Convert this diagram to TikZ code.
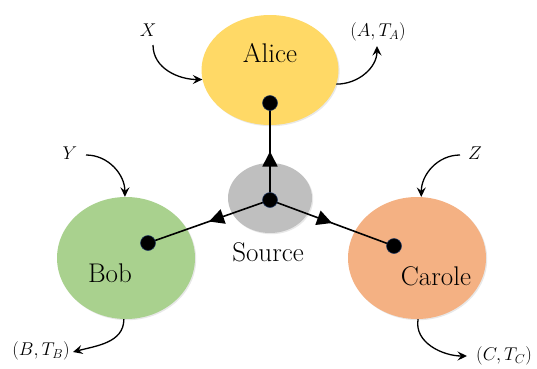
\RequirePackage{fix-cm}
\documentclass[tikz,border=0pt]{standalone}
\usetikzlibrary{shapes.geometric,arrows.meta,decorations.markings,shadows}
\definecolor{alicecol}{HTML}{FFD966}
\definecolor{bobcol}{HTML}{A9D18E}
\definecolor{carolecol}{HTML}{F4B183}
\definecolor{sourcecol}{HTML}{BFBFBF}
\definecolor{dotedge}{HTML}{1F3864}
\tikzset{
  party/.style={ellipse, inner sep=0pt, draw=none, drop shadow={opacity=0.18, shadow xshift=1.2pt, shadow yshift=-1.2pt}},
  dotnode/.style={circle, fill=black, draw=dotedge, line width=0.5pt, minimum size=15pt, inner sep=0pt},
  namelabel/.style={font=\fontsize{27}{31}\selectfont, inner sep=0pt},
  mathlabel/.style={font=\fontsize{18.5}{22}\selectfont, inner sep=0pt},
  link/.style={line width=1.6pt, decoration={markings, mark=at position 0.5 with {\arrow{Triangle[length=15pt,width=15pt]}}}, postaction={decorate}},
  inout/.style={line width=1.3pt, -{Stealth[length=9.5pt,width=9pt,inset=3.5pt]}}
}
\begin{document}
\begin{tikzpicture}[x=1pt,y=1pt]
\useasboundingbox (0,0) rectangle (537,368);
% ellipses
\node[party, fill=alicecol, minimum width=137pt, minimum height=110pt] (alice) at (270,298) {};
\node[party, fill=sourcecol, minimum width=84pt, minimum height=70pt] (source) at (270,170) {};
\node[party, fill=bobcol, minimum width=138pt, minimum height=122pt] (bob) at (126,110) {};
\node[party, fill=carolecol, minimum width=138pt, minimum height=122pt] (carole) at (417,110) {};
% names
\node[namelabel] (alicet) at (270,315) {Alice};
\node[namelabel] (sourcet) at (268,116) {Source};
\node[namelabel] (bobt) at (110,95) {Bob};
\node[namelabel] (carolet) at (436,92) {Carole};
% dot coordinates
\coordinate (ad) at (270,265);
\coordinate (sd) at (270,168);
\coordinate (bd) at (148,125);
\coordinate (cd) at (394,122);
% links
\draw[link] (sd) -- (ad);
\draw[link] (sd) -- (bd);
\draw[link] (sd) -- (cd);
% dots
\node[dotnode] (adot) at (ad) {};
\node[dotnode] (sdot) at (sd) {};
\node[dotnode] (bdot) at (bd) {};
\node[dotnode] (cdot) at (cd) {};
% inputs/outputs labels
\node[mathlabel] (x) at (148,338) {$X$};
\node[mathlabel] (ta) at (378,336) {$(A,T_A)$};
\node[mathlabel] (y) at (70,215) {$Y$};
\node[mathlabel] (z) at (475,215) {$Z$};
\node[mathlabel] (tb) at (41,17) {$(B,T_B)$};
\node[mathlabel] (tc) at (504,12) {$(C,T_C)$};
% curved arrows
\coordinate (xs) at (153,323);
\coordinate (tas) at (377,322);
\coordinate (ys) at (86,213);
\coordinate (zs) at (460,213);
\coordinate (tbe) at (73,16);
\coordinate (tce) at (467,12);
\draw[inout] (xs) to[out=-90,in=180] (alice.188);
\draw[inout] (alice.348) to[out=0,in=-90] (tas);
\draw[inout] (ys) to[out=0,in=90] (bob.91);
\draw[inout] (bob.268) to[out=-90,in=15] (tbe);
\draw[inout] (zs) to[out=180,in=90] (carole.86);
\draw[inout] (carole.271) to[out=-100,in=180] (tce);
\end{tikzpicture}
\end{document}
